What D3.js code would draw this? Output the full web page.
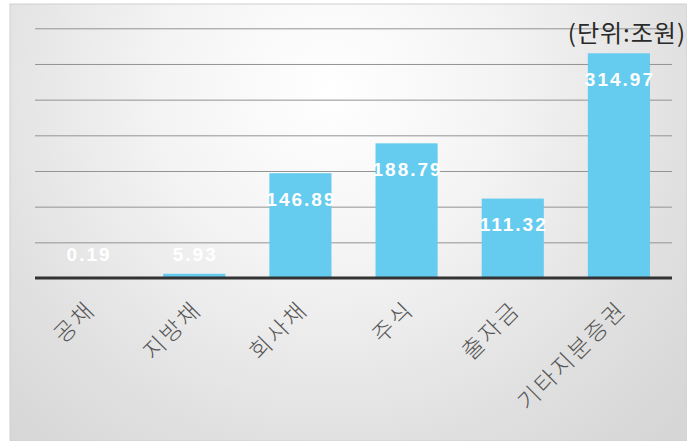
<!DOCTYPE html>
<html>
<head>
<meta charset="utf-8">
<script src="https://cdn.jsdelivr.net/npm/d3@7/dist/d3.min.js"></script>
<style>
  html, body { margin: 0; padding: 0; background: #fff; }
  svg { display: block; }
</style>
</head>
<body>
<svg id="chart" width="687" height="441"></svg>
<script>
// 증권 종류별 잔액 (단위: 조원)
const categories = ["공채", "지방채", "회사채", "주식", "출자금", "기타지분증권"];
const values = [0.19, 5.93, 146.89, 188.79, 111.32, 314.97];
const gridTicks = [0, 50, 100, 150, 200, 250, 300, 350];
const unitLabel = "(단위:조원)";

const W = 687, H = 441;
const plot = { left: 35, right: 672, top: 28.3, bottom: 278 };

const svg = d3.select("#chart");

// panel background with soft radial shading
const defs = svg.append("defs");
const grad = defs.append("radialGradient")
  .attr("id", "bg")
  .attr("gradientUnits", "userSpaceOnUse")
  .attr("cx", 330).attr("cy", 90).attr("r", 480);
grad.append("stop").attr("offset", "0%").attr("stop-color", "#ffffff");
grad.append("stop").attr("offset", "35%").attr("stop-color", "#f4f4f4");
grad.append("stop").attr("offset", "75%").attr("stop-color", "#e0e0e0");
grad.append("stop").attr("offset", "100%").attr("stop-color", "#d6d6d6");

svg.append("rect")
  .attr("x", 10).attr("y", 4)
  .attr("width", W - 10).attr("height", H - 4)
  .attr("fill", "url(#bg)")
  .attr("stroke", "#d0d0d0")
  .attr("stroke-width", 1);

const x = d3.scaleBand()
  .domain(categories)
  .range([plot.left, plot.right])
  .paddingInner(0.415)
  .paddingOuter(0.2075);

const y = d3.scaleLinear()
  .domain([0, 350])
  .range([plot.bottom, plot.top]);

// horizontal gridlines
svg.append("g")
  .attr("transform", `translate(${plot.left},0)`)
  .call(d3.axisLeft(y)
    .tickValues(gridTicks.filter(t => t > 0))
    .tickSize(-(plot.right - plot.left))
    .tickFormat(""))
  .call(g => g.select(".domain").remove())
  .call(g => g.selectAll(".tick line")
    .attr("stroke", "#939393")
    .attr("stroke-width", 1));

// bars
const data = categories.map((c, i) => ({ c, v: values[i] }));
svg.append("g")
  .selectAll("rect")
  .data(data)
  .join("rect")
  .attr("x", d => x(d.c))
  .attr("y", d => y(d.v))
  .attr("width", x.bandwidth())
  .attr("height", d => y(0) - y(d.v))
  .attr("fill", "#65cbef");

// category axis along the baseline
const xAxis = svg.append("g")
  .attr("transform", `translate(0,${plot.bottom})`)
  .call(d3.axisBottom(x).tickSize(0).tickPadding(0));
xAxis.select(".domain")
  .attr("stroke", "#333333")
  .attr("stroke-width", 3)
  .attr("d", `M${plot.left},0H${plot.right}`);
xAxis.selectAll(".tick text")
  .attr("font-family", "'Noto Sans CJK KR', 'Noto Sans', sans-serif")
  .attr("font-size", 23)
  .attr("font-weight", 300)
  .attr("letter-spacing", 2.5)
  .attr("fill", "#555555")
  .attr("text-anchor", "end")
  .attr("dy", null)
  .attr("y", 0)
  .attr("transform", "translate(9,33) rotate(-45)");

// value labels inside the bar ends
svg.append("g")
  .selectAll("text")
  .data(data)
  .join("text")
  .attr("x", d => x(d.c) + x.bandwidth() / 2 + 1)
  .attr("y", d => Math.min(y(d.v) + 26, 254))
  .attr("dy", "0.35em")
  .attr("text-anchor", "middle")
  .attr("font-family", "'Liberation Sans', Arial, sans-serif")
  .attr("font-weight", "bold")
  .attr("font-size", 19)
  .attr("letter-spacing", 2)
  .attr("fill", "#ffffff")
  .text(d => d.v.toFixed(2));

// unit note
svg.append("text")
  .attr("x", 686)
  .attr("y", 42)
  .attr("text-anchor", "end")
  .attr("font-family", "'Noto Sans CJK KR', sans-serif")
  .attr("font-size", 24)
  .attr("letter-spacing", 1)
  .attr("fill", "#2a2a2a")
  .text(unitLabel);
</script>
</body>
</html>
